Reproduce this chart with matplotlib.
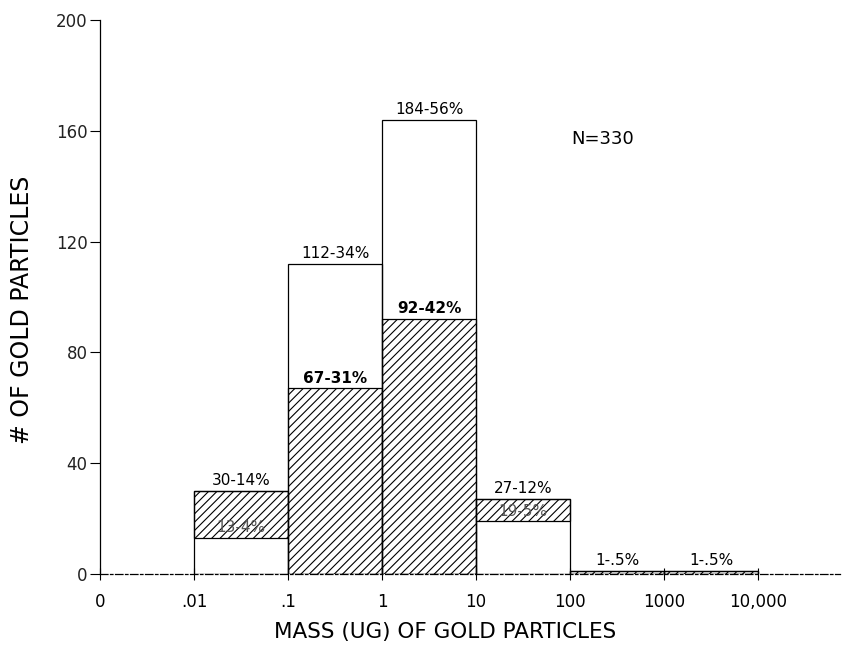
import numpy as np
import matplotlib
matplotlib.use("Agg")
import matplotlib.pyplot as plt

# bin edges on the x axis (equal spacing, category positions)
edge_labels = ["0", ".01", ".1", "1", "10", "100", "1000", "10,000"]

# one bar per bin, from .01-.1 up to 1000-10,000
# heights as drawn in the figure (the 184 bar is drawn at about 164)
total_height = [30, 112, 164, 27, 1, 1]
total_text = ["30-14%", "112-34%", "184-56%", "27-12%", "1-.5%", "1-.5%"]
sub_height = [13, 67, 92, 19, 1, 1]
sub_text = ["13-4%", "67-31%", "92-42%", "19-5%", "", ""]
# in the outer bins the hatch sits between the two values
hatch_on_top = [True, False, False, True, False, False]


def main():
    plt.rcParams["hatch.linewidth"] = 0.8
    fig = plt.figure(figsize=(8.46, 6.48), dpi=100)
    ax = fig.add_axes([100 / 846, 74 / 648, 740 / 846, 554 / 648])

    left = np.arange(1, 1 + len(total_height))

    # outline bars
    ax.bar(left, total_height, width=1, align="edge", fill=False,
           edgecolor="black", linewidth=0.9, zorder=2)

    # hatched part
    for i in range(len(total_height)):
        if hatch_on_top[i]:
            lo, hi = sub_height[i], total_height[i]
        else:
            lo, hi = 0, sub_height[i]
        ax.bar(left[i], hi - lo, bottom=lo, width=1, align="edge",
               facecolor="white", edgecolor="black", hatch="////",
               linewidth=0.9, zorder=1)

    # labels
    for i in range(len(total_height)):
        ax.annotate(total_text[i], (left[i] + 0.5, total_height[i]),
                    xytext=(0, 2), textcoords="offset points",
                    ha="center", va="bottom", fontsize=11)
        if sub_text[i]:
            inner = not hatch_on_top[i]
            ax.annotate(sub_text[i], (left[i] + 0.5, sub_height[i]),
                        xytext=(0, 2), textcoords="offset points",
                        ha="center", va="bottom", fontsize=11,
                        fontweight="bold" if inner else "normal",
                        color="black" if inner else "#555555")

    ax.text(5.35, 157, "N=330", ha="center", va="center", fontsize=13)

    ax.set_xlim(0, 7.87)
    ax.set_ylim(0, 200)
    ax.set_xticks(range(len(edge_labels)))
    ax.set_xticklabels(edge_labels, fontsize=12)
    ax.set_yticks([0, 40, 80, 120, 160, 200])
    ax.tick_params(axis="x", direction="inout", length=8, pad=10, width=0.8)
    ax.tick_params(axis="y", direction="out", length=7, pad=2, width=0.8,
                   labelsize=12, labelcolor="#222222")

    for s in ["top", "right"]:
        ax.spines[s].set_visible(False)
    ax.spines["left"].set_linewidth(0.9)
    ax.spines["bottom"].set_linewidth(0.9)
    ax.spines["bottom"].set_linestyle((0, (6, 2, 2, 2)))

    fig.text(445 / 846, 1 - 632 / 648, "MASS (UG) OF GOLD PARTICLES",
             ha="center", va="center", fontsize=15.5)
    fig.text(22 / 846, 1 - 310 / 648, "# OF GOLD PARTICLES",
             ha="center", va="center", rotation=90, fontsize=17)

    plt.savefig("out.png", dpi=100)


if __name__ == "__main__":
    main()
